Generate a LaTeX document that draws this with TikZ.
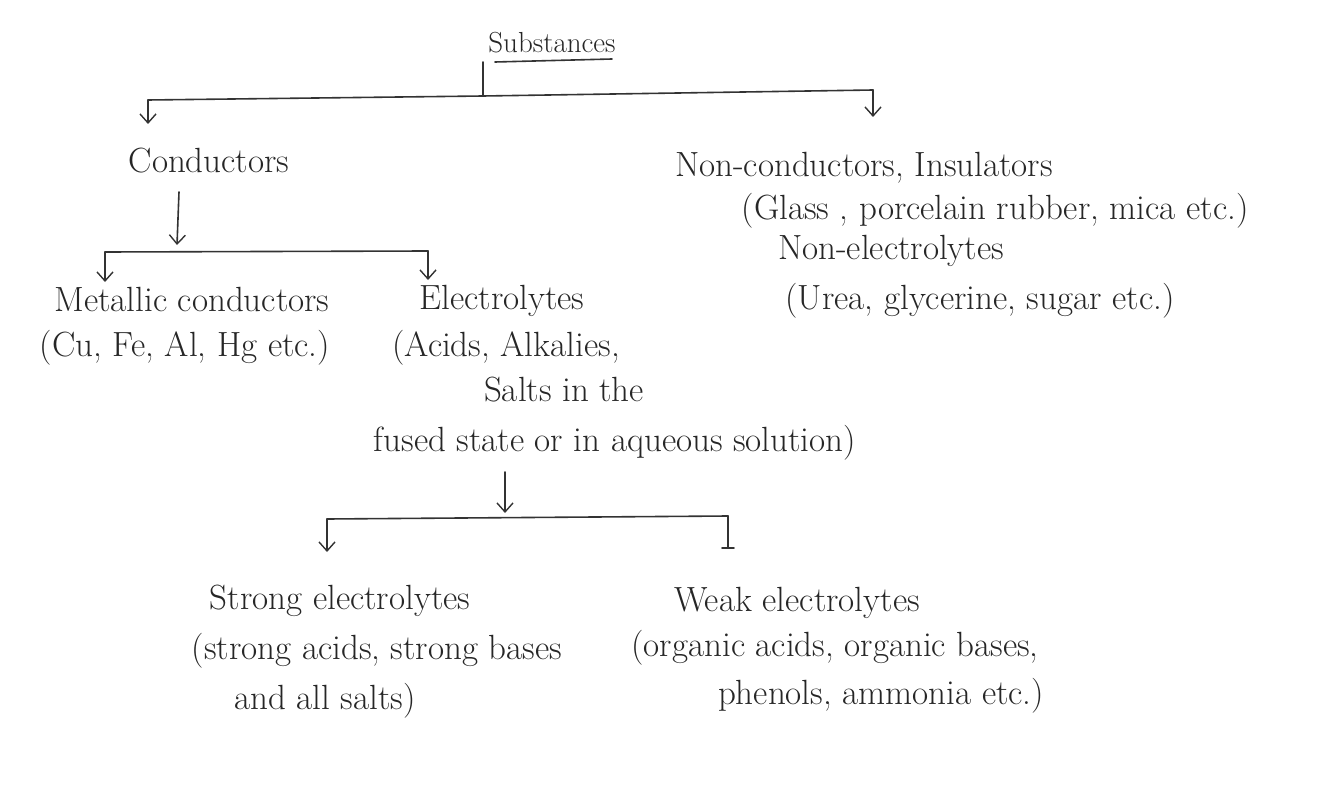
\documentclass[tikz,border=0pt]{standalone}
\usepackage{fontspec}
\usetikzlibrary{arrows.meta}
\begin{document}
\begin{tikzpicture}[x=1pt,y=-1pt,
  txt/.style={font=\fontsize{35}{40}\selectfont, inner sep=0pt, anchor=base, text=black!85},
  ln/.style={draw=black!80, line width=1.6pt, line cap=round},
  arr/.style={ln, -{Straight Barb[length=9pt,width=16pt,line width=1.4pt]}}]
\useasboundingbox (0,0) rectangle (1337,794);
% texts (anchor = baseline centre)
\node[txt, font=\fontsize{29}{33}\selectfont] (subst) at (552,53) {Substances};
\node[txt] (cond) at (209,173) {Conductors};
\node[txt] (nonc) at (864,177) {Non-conductors, Insulators};
\node[txt] (glass) at (995,220) {(Glass , porcelain rubber, mica etc.)};
\node[txt] (nonel) at (891,259) {Non-electrolytes};
\node[txt] (urea) at (980,309) {(Urea, glycerine, sugar etc.)};
\node[txt] (metal) at (192,311) {Metallic conductors};
\node[txt] (cu) at (185,356) {(Cu, Fe, Al, Hg etc.)};
\node[txt] (elec) at (502,309) {Electrolytes};
\node[txt] (acids) at (506,356) {(Acids, Alkalies,};
\node[txt] (salts) at (564,401) {Salts in the};
\node[txt] (fused) at (615,451) {fused state or in aqueous solution)};
\node[txt] (strong) at (340,609) {Strong electrolytes};
\node[txt] (sacids) at (377,659) {(strong acids, strong bases};
\node[txt] (allsalts) at (325,709) {and all salts)};
\node[txt] (weak) at (797,611) {Weak electrolytes};
\node[txt] (orgac) at (835,656) {(organic acids, organic bases,};
\node[txt] (phen) at (881,704) {phenols, ammonia etc.)};
% underline
\draw[ln] (495,62) coordinate (u1) -- (612,59) coordinate (u2);
% level 1
\coordinate (j1) at (483,62);
\coordinate (j1b) at (483,96);
\coordinate (h1l) at (148,100);
\coordinate (h1r) at (873,90);
\draw[ln] (j1) -- (j1b);
\draw[ln] (h1l) -- (j1b) -- (h1r);
\draw[arr] (h1l) -- (148,124);
\draw[arr] (h1r) -- (873,117);
% conductors
\draw[arr] (179,192) -- (177,245);
\coordinate (h2l) at (105,252);
\coordinate (h2r) at (428,251);
\draw[ln] (h2l) -- (h2r);
\draw[arr] (h2l) -- (105,282);
\draw[arr] (h2r) -- (428,280);
% electrolytes
\draw[arr] (505,472) -- (505,513);
\coordinate (h3l) at (327,519);
\coordinate (h3r) at (728,516);
\draw[ln] (h3l) -- (h3r);
\draw[arr] (h3l) -- (327,552);
\draw[ln] (h3r) -- (728,548);
\draw[ln] (722,548) -- (734,548);
\end{tikzpicture}
\end{document}
